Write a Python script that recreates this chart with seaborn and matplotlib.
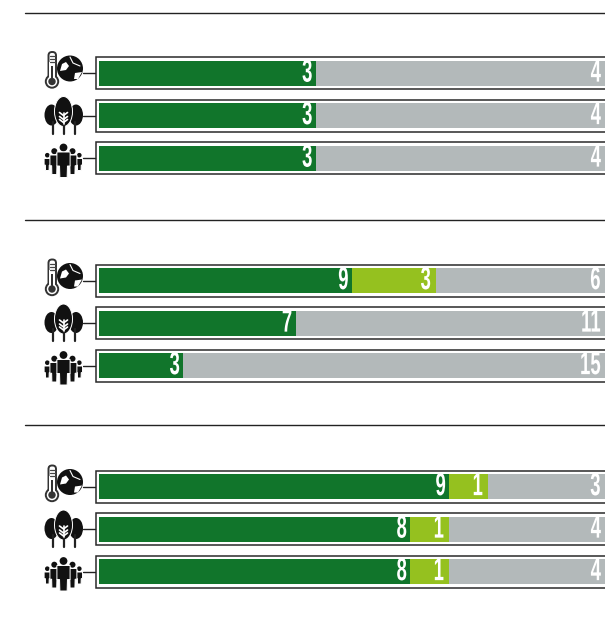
import matplotlib
matplotlib.use('Agg')
import matplotlib.pyplot as plt
import matplotlib.patheffects as pe
from matplotlib.patches import Circle, Ellipse, Polygon, Rectangle, FancyBboxPatch
from matplotlib.transforms import Affine2D
import pandas as pd
import seaborn as sns

# values
rows = ['climate', 'forest', 'people']
dark_1 = [3, 3, 3]
light_1 = [0, 0, 0]
grey_1 = [4, 4, 4]
dark_2 = [9, 7, 3]
light_2 = [3, 0, 0]
grey_2 = [6, 11, 15]
dark_3 = [9, 8, 8]
light_3 = [1, 1, 1]
grey_3 = [3, 4, 4]

DARK = '#11752b'
LIGHT = '#95c11f'
GREY = '#b3b9ba'
INK = '#111111'
W, H = 605, 622
ROW_GAP = 42.5
BAR_H = 25

sns.set_theme(style='white')
plt.rcParams['font.family'] = ['Liberation Sans Narrow', 'Liberation Sans', 'DejaVu Sans']


class Squeeze(pe.AbstractPathEffect):
    # the original digits are very condensed, no installed font is that narrow
    def __init__(self, sx):
        super().__init__()
        self.sx = sx

    def draw_path(self, renderer, gc, tpath, affine, rgbFace=None):
        x1 = tpath.get_extents().x1
        squeeze = Affine2D().translate(-x1, 0).scale(self.sx, 1).translate(x1, 0)
        renderer.draw_path(gc, tpath, squeeze + affine, rgbFace)


def thermo_globe(bg, cy):
    dy = cy - 73
    bg.add_patch(Circle((70, 68.5 + dy), 13, fc=INK, ec='none'))
    bg.add_patch(Polygon([(62, 64 + dy), (66, 62 + dy), (69, 66 + dy), (66, 70 + dy), (60, 71 + dy)], fc='white', ec='none'))
    bg.add_patch(Polygon([(75, 73 + dy), (82, 72 + dy), (78, 79 + dy), (74, 79 + dy)], fc='white', ec='none'))
    bg.plot([70, 73, 80], [57 + dy, 63 + dy, 66 + dy], color='white', lw=0.8)
    bg.add_patch(FancyBboxPatch((48.5, 52 + dy), 7.5, 28, boxstyle='round,pad=0,rounding_size=3.5', fc='white', ec='#333333', lw=1.4, zorder=3))
    bg.add_patch(Circle((52, 81.5 + dy), 6.2, fc='white', ec='#333333', lw=1.4, zorder=3))
    bg.add_patch(Rectangle((49.4, 62 + dy), 5.2, 18, fc='white', ec='none', zorder=4))
    bg.add_patch(Circle((52, 81.5 + dy), 3.7, fc='#333333', ec='none', zorder=5))
    bg.add_patch(Rectangle((50.7, 66 + dy), 2.6, 14, fc='#333333', ec='none', zorder=5))
    for y in [56, 59, 62]:
        bg.plot([50, 54.5], [y + dy, y + dy], color='#444444', lw=0.9, zorder=5)


def trees(bg, cy):
    dy = cy - 116
    for x, trunk in [(51.5, 52.7), (76, 74.5)]:
        bg.add_patch(Ellipse((x, 115.5 + dy), 14, 21, fc=INK, ec='none'))
        bg.plot([trunk, trunk], [122 + dy, 134 + dy], color='#222222', lw=1.6)
    bg.add_patch(Ellipse((63.5, 112 + dy), 18, 30, fc=INK, ec='white', lw=0.7, zorder=3))
    bg.plot([63.5, 63.5], [124 + dy, 134 + dy], color='#222222', lw=1.6, zorder=3)
    bg.plot([63.5, 63.5], [113 + dy, 124 + dy], color='white', lw=1.2, zorder=4)
    for y in [115, 119, 122]:
        bg.plot([59.5, 63.5, 67.5], [y + dy - 2, y + dy + 1, y + dy - 2], color='white', lw=1.2, zorder=4)


def people(bg, cy):
    dy = cy - 158.5
    # x, head radius, head y, shoulder half width, top, bottom
    figs = [(47.3, 2.3, 155.7, 3.2, 159, 171), (79.3, 2.3, 155.7, 3.2, 159, 171),
            (54.3, 3, 151.7, 4.4, 155.5, 175), (72.5, 3, 151.7, 4.4, 155.5, 175),
            (63.5, 3.9, 148, 6.6, 152.5, 178)]
    for x, r, hy, hw, top, bot in figs:
        mid = top + dy + 0.55 * (bot - top)
        bg.add_patch(Circle((x, hy + dy), r, fc=INK, ec='none', zorder=3))
        bg.add_patch(Polygon([(x - hw, top + dy), (x + hw, top + dy), (x + hw, mid),
                              (x + hw * 0.6, mid), (x + hw * 0.55, bot + dy),
                              (x - hw * 0.55, bot + dy), (x - hw * 0.6, mid),
                              (x - hw, mid)], fc=INK, ec='white', lw=0.7, zorder=3))


fig = plt.figure(figsize=(W / 100, H / 100), dpi=100)

# page layer in pixels: rules, frames, icons
bg = fig.add_axes([0, 0, 1, 1])
bg.set_xlim(0, W)
bg.set_ylim(H, 0)
bg.axis('off')

for y in [13, 220, 425]:
    bg.plot([25, W], [y, y], color='#222222', lw=1)

groups = [(73, dark_1, light_1, grey_1), (280.5, dark_2, light_2, grey_2), (486.5, dark_3, light_3, grey_3)]
icons = [thermo_globe, trees, people]

for first, dark, light, grey in groups:
    centers = [first + i * ROW_GAP for i in range(3)]
    for cy, icon in zip(centers, icons):
        bg.add_patch(Rectangle((95.5, cy - 16), 530, 32, fc='white', ec='#2a2a2a', lw=1.1))
        bg.plot([83, 95], [cy, cy], color='#222222', lw=1)
        icon(bg, cy)

    df = pd.DataFrame({'row': rows, 'dark': dark, 'light': light, 'grey': grey})
    df['to_light'] = df['dark'] + df['light']
    df['total'] = df['to_light'] + df['grey']

    # stacked by overdrawing the running totals, widest first
    top = first - ROW_GAP / 2
    ax = fig.add_axes([99 / W, 1 - (top + 3 * ROW_GAP) / H, 1 - 99 / W, 3 * ROW_GAP / H])
    ax.patch.set_alpha(0)
    for col, colour in [('total', GREY), ('to_light', LIGHT), ('dark', DARK)]:
        sns.barplot(data=df, x=col, y='row', order=rows, color=colour, saturation=1,
                    width=BAR_H / ROW_GAP, linewidth=0, ax=ax)
    ax.set_xlim(0, df['total'].iloc[0])
    ax.set_ylim(2.5, -0.5)
    ax.axis('off')

    squeeze = [Squeeze(0.58)]
    px = df['total'].iloc[0] / (W - 99)
    for i, r in df.iterrows():
        for val, end, pad in [(r['dark'], r['dark'], 3), (r['light'], r['to_light'], 5), (r['grey'], r['total'], 4)]:
            if val > 0:
                ax.text(end - pad * px, i + 0.015, str(val), color='white', ha='right', va='center',
                        fontsize=23, fontweight='bold', path_effects=squeeze)

fig.savefig('out.png', dpi=100)
